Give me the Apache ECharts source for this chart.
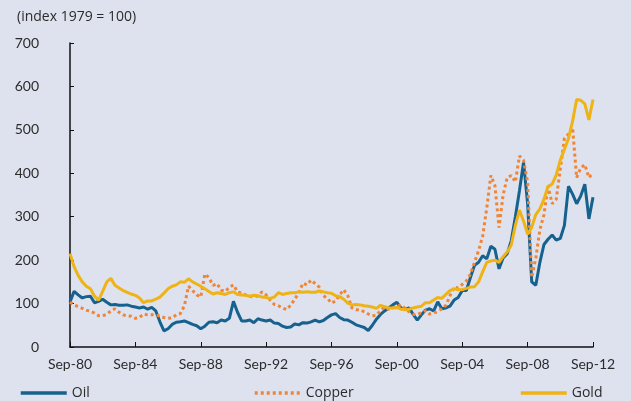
<!DOCTYPE html>
<html>
<head>
<meta charset="utf-8">
<title>Oil, copper and gold prices</title>
<script src="https://cdn.jsdelivr.net/npm/echarts@6/dist/echarts.min.js"></script>
<style>
  html, body { margin: 0; padding: 0; background: #dde2ee; }
  #chart { width: 631px; height: 401px; }
</style>
</head>
<body>
<div id="chart"></div>
<script>
// quarterly points, Sep-80 .. Sep-12
const quarterMonths = ['Sep', 'Dec', 'Mar', 'Jun'];
const quarters = [];
for (let i = 0; i <= 128; i++) {
    const yr = 80 + Math.floor((i + 2) / 4);
    quarters.push(quarterMonths[i % 4] + '-' + String(yr % 100).padStart(2, '0'));
}

// index 1979 = 100
const oil = [
    104, 128, 120, 113, 116, 117, 102, 105, 110, 103, 97, 98, 96, 96, 97, 94,
    92, 90, 92, 87, 91, 83, 58, 37, 42, 52, 57, 58, 60, 56, 52, 49,
    42, 48, 57, 58, 56, 62, 60, 66, 105, 80, 60, 60, 62, 56, 65, 62,
    60, 62, 55, 54, 48, 45, 46, 53, 51, 56, 55, 58, 62, 58, 61, 68,
    74, 77, 68, 63, 62, 57, 51, 48, 45, 38, 50, 64, 75, 83, 90, 97,
    103, 90, 86, 90, 75, 62, 74, 85, 88, 83, 104, 88, 90, 94, 108, 114,
    130, 130, 160, 188, 195, 210, 203, 232, 225, 180, 205, 215, 245, 300, 360, 425,
    330, 150, 142, 195, 236, 248, 258, 246, 250, 280, 370, 352, 330, 348, 375, 295,
    345
];
const copper = [
    103, 97, 93, 89, 85, 82, 78, 72, 72, 75, 83, 88, 80, 74, 72, 71,
    66, 68, 76, 74, 74, 74, 71, 68, 66, 67, 74, 77, 95, 140, 130, 120,
    115, 168, 160, 142, 146, 131, 128, 137, 143, 127, 124, 120, 117, 115, 118, 127,
    120, 108, 98, 95, 90, 86, 96, 110, 125, 147, 143, 154, 146, 138, 118, 112,
    101, 106, 120, 132, 118, 90, 86, 86, 81, 76, 72, 73, 84, 92, 87, 90,
    93, 97, 89, 81, 75, 75, 79, 84, 76, 78, 82, 88, 96, 118, 138, 136,
    144, 152, 168, 195, 222, 255, 320, 395, 372, 275, 350, 390, 395, 380, 440, 430,
    380, 160, 205, 270, 305, 370, 330, 340, 410, 480, 490, 505, 390, 412, 420, 390,
    400
];
const gold = [
    215, 185, 165, 150, 140, 134, 117, 108, 128, 150, 158, 142, 136, 130, 126, 122,
    119, 113, 102, 106, 106, 110, 115, 124, 134, 140, 143, 150, 149, 157, 150, 145,
    140, 134, 128, 122, 125, 123, 121, 125, 127, 121, 120, 119, 117, 119, 118, 115,
    114, 112, 115, 125, 121, 123, 125, 125, 127, 126, 127, 126, 126, 129, 127, 125,
    124, 118, 116, 110, 101, 97, 98, 97, 95, 94, 92, 89, 96, 93, 90, 90,
    91, 87, 86, 87, 90, 92, 94, 102, 102, 108, 114, 112, 121, 130, 134, 132,
    132, 135, 138, 139, 150, 173, 195, 198, 200, 195, 208, 219, 235, 280, 315, 290,
    260, 275, 305, 318, 340, 370, 375, 396, 430, 455, 480, 520, 570, 568, 560, 523,
    570
];

const chart = echarts.init(document.getElementById('chart'));
const textColor = '#2b2b2b';
const fontFamily = '"Open Sans", Lato, sans-serif';

// 图例：只画线，不画圆点
const legendBase = {
    bottom: -4,
    itemWidth: 46,
    itemHeight: 14,
    itemGap: 7,
    itemStyle: { opacity: 0 },
    lineStyle: { width: 3.5 },
    textStyle: { color: textColor, fontSize: 14, fontFamily: fontFamily }
};

chart.setOption({
    backgroundColor: '#dde2ee',
    animation: false,
    title: {
        text: '(index 1979 = 100)',
        left: 12,
        top: 5,
        textStyle: { color: textColor, fontSize: 14, fontWeight: 'normal', fontFamily: fontFamily }
    },
    legend: [
        Object.assign({ left: 14, data: ['Oil'] }, legendBase),
        Object.assign({ left: 248, data: ['Copper'] }, legendBase),
        Object.assign({ left: 514, data: ['Gold'] }, legendBase)
    ],
    grid: { left: 70, right: 38, top: 43, bottom: 54 },
    xAxis: {
        type: 'category',
        data: quarters,
        boundaryGap: false,
        axisLine: { lineStyle: { color: '#111', width: 1.5 } },
        axisTick: { inside: true, length: 5, interval: 15, lineStyle: { color: '#111' } },
        axisLabel: {
            interval: 15,
            margin: 10,
            color: textColor,
            fontSize: 14,
            fontFamily: 'Lato, sans-serif'
        },
        splitLine: { show: false }
    },
    yAxis: {
        type: 'value',
        min: 0,
        max: 700,
        interval: 100,
        axisLine: { show: true, lineStyle: { color: '#111', width: 1.5 } },
        axisTick: { show: true, inside: true, length: 4, lineStyle: { color: '#111' } },
        axisLabel: { margin: 31, color: textColor, fontSize: 14, fontFamily: 'Lato, sans-serif' },
        splitLine: { show: false }
    },
    series: [
        {
            name: 'Oil',
            type: 'line',
            data: oil,
            symbol: 'none',
            color: '#17618f',
            lineStyle: { width: 3, color: '#17618f' },
            z: 2
        },
        {
            name: 'Copper',
            type: 'line',
            data: copper,
            symbol: 'none',
            color: '#ef8535',
            lineStyle: { width: 3, color: '#ef8535', type: [3, 3] },
            z: 3
        },
        {
            name: 'Gold',
            type: 'line',
            data: gold,
            symbol: 'none',
            color: '#efb316',
            lineStyle: { width: 3, color: '#efb316' },
            z: 4
        }
    ]
});
</script>
</body>
</html>
